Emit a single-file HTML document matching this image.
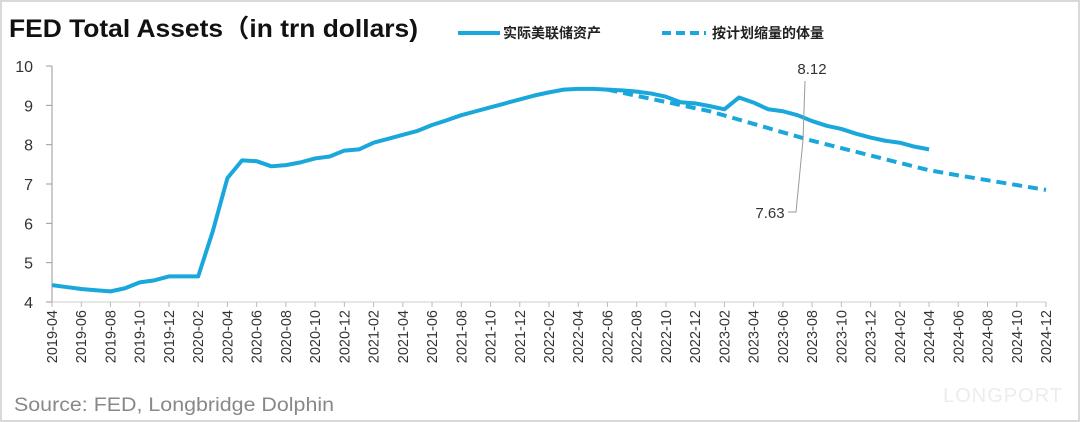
<!DOCTYPE html><html><head><meta charset="utf-8"><style>
body{margin:0;background:#fff}
svg{display:block;font-family:"Liberation Sans","Noto Sans CJK SC",sans-serif}
</style></head><body>
<svg id="s" width="1080" height="422" xmlns="http://www.w3.org/2000/svg">
<rect x="1" y="1" width="1078" height="420" fill="#fff" stroke="#d9d9d9" stroke-width="2"/>
<text x="9" y="37" font-size="25" font-weight="bold" fill="#111" textLength="409" lengthAdjust="spacingAndGlyphs">FED Total Assets（in trn dollars)</text>
<line x1="458" y1="33" x2="500" y2="33" stroke="#1aa7db" stroke-width="4"/>
<text x="503" y="38" font-size="14" font-weight="bold" fill="#222">实际美联储资产</text>
<line x1="662" y1="33" x2="706" y2="33" stroke="#1aa7db" stroke-width="4" stroke-dasharray="9,5"/>
<text x="712" y="38" font-size="14" font-weight="bold" fill="#222">按计划缩量的体量</text>
<text x="14" y="411" font-size="19" fill="#888" textLength="320" lengthAdjust="spacingAndGlyphs">Source: FED, Longbridge Dolphin</text>
<text x="1063" y="402" font-size="20" fill="#ececec" text-anchor="end" letter-spacing="1">LONGPORT</text>
<g id="g"></g>
</svg>
<script>
const g=document.getElementById('g');let h='';
const X=m=>52+m*994/68, Y=v=>302-(v-4)*39.33;
h+='<line x1="52" y1="66" x2="52" y2="302" stroke="#999"/><line x1="52" y1="302" x2="1046" y2="302" stroke="#ccc"/>';
for(let v=4;v<=10;v++){h+=`<line x1="46" y1="${Y(v)}" x2="52" y2="${Y(v)}" stroke="#999"/><text x="33" y="${Y(v)+6}" font-size="16" fill="#333" text-anchor="end">${v}</text>`;}
for(let m=0;m<=68;m+=2){const x=X(m);h+=`<line x1="${x}" y1="302" x2="${x}" y2="307" stroke="#bbb"/>`;
const y=2019+Math.floor((m+3)/12),mo=((m+3)%12)+1;h+=`<text transform="translate(${x+5},310) rotate(-90)" font-size="14.5" fill="#333" text-anchor="end">${y}-${String(mo).padStart(2,'0')}</text>`;}
const a=[4.43,4.38,4.33,4.3,4.27,4.35,4.5,4.55,4.65,4.65,4.65,5.8,7.15,7.6,7.58,7.45,7.48,7.55,7.65,7.7,7.85,7.88,8.05,8.15,8.25,8.35,8.5,8.62,8.75,8.85,8.95,9.05,9.15,9.25,9.33,9.4,9.42,9.42,9.4,9.38,9.35,9.3,9.22,9.08,9.05,8.98,8.9,9.2,9.07,8.9,8.85,8.75,8.6,8.48,8.4,8.28,8.18,8.1,8.05,7.95,7.88];
h+=`<polyline fill="none" stroke="#1aa7db" stroke-width="4" stroke-linejoin="round" points="${a.map((v,i)=>X(i)+','+Y(v)).join(' ')}"/>`;
const d=[[38,9.4],[45,8.85],[52,8.1],[60,7.35],[62,7.22],[68,6.85]];
h+=`<polyline fill="none" stroke="#1aa7db" stroke-width="4" stroke-dasharray="10,6" points="${d.map(p=>X(p[0])+','+Y(p[1])).join(' ')}"/>`;
h+='<text x="812" y="74" font-size="15" fill="#333" text-anchor="middle">8.12</text><line x1="805" y1="81" x2="803" y2="140" stroke="#999"/>';
h+='<text x="770" y="218" font-size="15" fill="#333" text-anchor="middle">7.63</text><polyline fill="none" stroke="#999" points="788,212 796,212 803,140"/>';
g.innerHTML=h;
</script>
</body></html>
